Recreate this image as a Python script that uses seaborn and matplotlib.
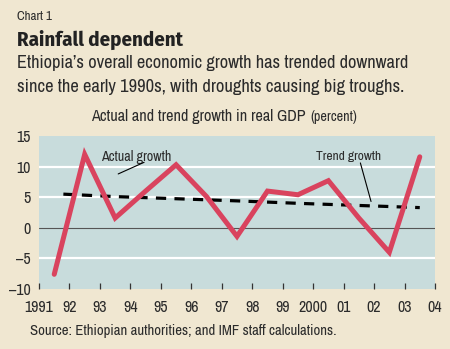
import matplotlib
matplotlib.use("Agg")
import matplotlib.pyplot as plt
import seaborn as sns
import pandas as pd

# ---- data ----
actual_years = [1991.5, 1992.5, 1993.5, 1994.5, 1995.5, 1996.5, 1997.5,
                1998.5, 1999.5, 2000.5, 2001.5, 2002.5, 2003.5]
actual_growth = [-7.6, 12.0, 1.6, 6.0, 10.3, 5.1, -1.4, 6.0, 5.4, 7.7, 1.6, -4.0, 11.6]

trend_years = [1991.8, 1993.5, 1995.5, 1997.5, 1999.5, 2001.5, 2003.5]
trend_growth = [5.5, 5.1, 4.75, 4.4, 4.0, 3.65, 3.3]

x_ticks = list(range(1991, 2005))
x_tick_labels = ["1991", "92", "93", "94", "95", "96", "97", "98", "99",
                 "2000", "01", "02", "03", "04"]
y_ticks = [-10, -5, 0, 5, 10, 15]
y_tick_labels = ["\u201310", "\u20135", "0", "5", "10", "15"]

# ---- style ----
sns.set_style("white")
FONT = ["Archivo Narrow", "Fira Sans Condensed", "DejaVu Sans"]
BOLD_FONT = ["Fira Sans Condensed", "DejaVu Sans"]
plt.rcParams["font.family"] = FONT

CREAM = "#F0E7D1"
PLOTBG = "#C8DCDC"
RED = "#D9435E"
TXT = "#2b2b2b"

W, H = 450, 349
fig = plt.figure(figsize=(W / 100, H / 100), dpi=100, facecolor=CREAM)
renderer = fig.canvas.get_renderer()

def px(x, y):
    return x / W, 1 - y / H

def fit(t, width_px):
    for _ in range(3):
        w = t.get_window_extent(renderer=renderer).width
        t.set_fontsize(t.get_fontsize() * width_px / w)
    return t

ax = fig.add_axes([39 / W, 1 - 289 / H, (435 - 39) / W, (289 - 136) / H])
ax.set_facecolor(PLOTBG)

actual_df = pd.DataFrame({"year": actual_years, "growth": actual_growth})
trend_df = pd.DataFrame({"year": trend_years, "growth": trend_growth})

for yv in [-5, 5, 10]:
    ax.axhline(yv, color="white", lw=1.6, zorder=1)
ax.axhline(0, color="#555555", lw=0.8, zorder=1)

sns.lineplot(data=trend_df, x="year", y="growth", ax=ax, color="black",
             lw=2.3, zorder=2, estimator=None, sort=False)
ax.lines[-1].set_dashes((3.2, 2.6))
sns.lineplot(data=actual_df, x="year", y="growth", ax=ax, color=RED,
             lw=3.6, zorder=3, estimator=None, sort=False,
             solid_capstyle="round", solid_joinstyle="miter")

ax.set_xlim(1991, 2004)
ax.set_ylim(-10, 15)
ax.set_xticks(x_ticks)
ax.set_xticklabels(x_tick_labels)
ax.set_yticks(y_ticks)
ax.set_yticklabels(y_tick_labels)
ax.set_xlabel("")
ax.set_ylabel("")
for s in ax.spines.values():
    s.set_visible(False)
ax.tick_params(axis="x", direction="in", length=4, width=0.9, color="#333333",
               labelsize=11.5, labelcolor=TXT, pad=8)
ax.tick_params(axis="y", length=0, labelsize=11.5, labelcolor=TXT, pad=6)
ax.xaxis.set_ticks_position("bottom")

# annotations
a1 = ax.text(1993.05, 11.6, "Actual growth", fontsize=10, color=TXT, va="center", ha="left")
fit(a1, 70)
ax.plot([1994.45, 1993.6], [10.7, 8.8], color="black", lw=0.8, zorder=4)
a2 = ax.text(2000.1, 11.6, "Trend growth", fontsize=10, color=TXT, va="center", ha="left")
fit(a2, 65)
ax.plot([2001.55, 2001.9], [10.6, 4.3], color="black", lw=0.8, zorder=4)

# texts
fit(fig.text(*px(17, 16), "Chart 1", fontsize=8.5, color=TXT, va="center", ha="left"), 35)
fit(fig.text(*px(17, 40), "Rainfall dependent", fontsize=15, fontweight="bold",
             family=BOLD_FONT, color="#222222", va="center", ha="left"), 166)
fit(fig.text(*px(17, 63), "Ethiopia\u2019s overall economic growth has trended downward",
             fontsize=12.5, color=TXT, va="center", ha="left"), 391)
fit(fig.text(*px(17, 87), "since the early 1990s, with droughts causing big troughs.",
             fontsize=12.5, color=TXT, va="center", ha="left"), 387)
t1 = fig.text(*px(91, 117), "Actual and trend growth in real GDP",
              fontsize=10.5, color=TXT, va="center", ha="left")
fit(t1, 214)
bb = t1.get_window_extent(renderer=renderer)
t2 = fig.text((bb.x1 + 5) / W, 1 - 117.5 / H, "(percent)", fontsize=8.5, color=TXT,
              va="center", ha="left")
fit(t2, 47)
fit(fig.text(*px(30, 331), "Source: Ethiopian authorities; and IMF staff calculations.",
             fontsize=8.5, color=TXT, va="center", ha="left"), 307)

fig.savefig("out.png", dpi=100, facecolor=CREAM)
